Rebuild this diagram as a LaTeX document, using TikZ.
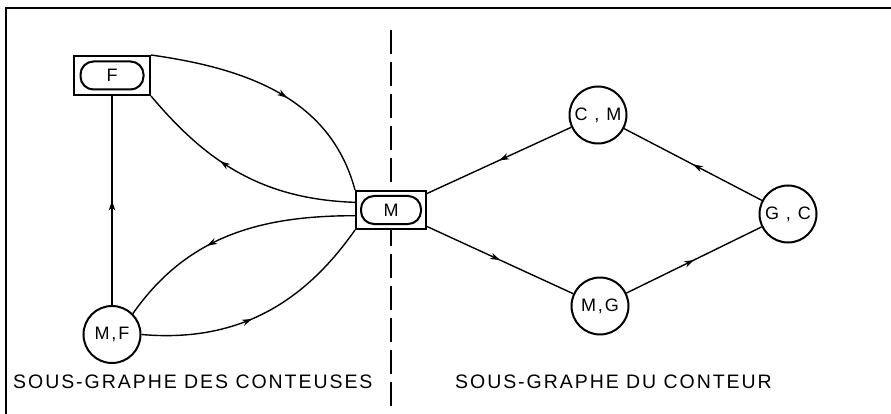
\documentclass[tikz,border=0pt]{standalone}
\usepackage{fontspec}
\setmainfont{Liberation Sans}[LetterSpace=10]
\usetikzlibrary{decorations.markings,arrows.meta}

\begin{document}
\begin{tikzpicture}[x=1pt,y=1pt,
  state/.style={circle,draw,line width=2pt,minimum size=57pt,inner sep=0pt,
    font=\fontsize{18}{20}\selectfont},
  outbox/.style={rectangle,draw,line width=2pt,fill=white,inner sep=0pt},
  inbox/.style={rectangle,draw,line width=2pt,rounded corners=13pt,inner sep=0pt,
    minimum height=28pt,font=\fontsize{18}{20}\selectfont},
  edge/.style={line width=1.4pt},
  midarrow/.style={edge,postaction={decorate},decoration={markings,
    mark=at position #1 with {\arrow{Stealth[length=10pt,width=6.5pt]}}}},
  midarrow/.default=0.5]
        \useasboundingbox (0,0) rectangle (891,-414);
        % Frame and separator
        \draw[line width=2pt] (891,-8) -- (6,-8) -- (6,-414);
        \draw[line width=2pt,dash pattern=on 24pt off 8pt] (391,-30) -- (391,-412);
        % Boxes
        \node[outbox,minimum width=76pt,minimum height=39pt] (F) at (112,-75.5) {};
        \node[inbox,minimum width=63pt] (Ftxt) at (F) {F};
        \node[outbox,minimum width=70pt,minimum height=38pt] (M) at (391,-210) {};
        \node[inbox,minimum width=60pt] (Mtxt) at (M) {M};
        % States
        \node[state] (MF) at (112,-334.5) {M,F};
        \node[state] (CM) at (598,-115) {C , M};
        \node[state] (GC) at (788,-214) {G , C};
        \node[state] (MG) at (600,-306) {M,G};
        % Left subgraph
        \draw[midarrow=0.55] (F.north east) to[out=-8,in=105] (M.north west);
        \draw[midarrow=0.6] (M.168) to[out=178,in=-50] (F.south east);
        \draw[midarrow=0.6] (M.189) to[out=180,in=55] (MF.45);
        \draw[midarrow=0.45] (MF.east) to[out=-5,in=-125] (M.south west);
        \draw[midarrow] (MF) -- (F);
        % Right subgraph
        \draw[midarrow] (CM) -- (M);
        \draw[midarrow] (M) -- (MG);
        \draw[midarrow] (MG) -- (GC);
        \draw[midarrow] (GC) -- (CM);
        % Labels
        \node[anchor=base west,inner sep=0pt,font=\fontsize{19.5}{22}\selectfont]
          (lconteuses) at (13,-388) {SOUS-GRAPHE DES CONTEUSES};
        \node[anchor=base west,inner sep=0pt,font=\fontsize{19.5}{22}\selectfont]
          (lconteur) at (455,-388) {SOUS-GRAPHE DU CONTEUR};
\end{tikzpicture}
\end{document}
